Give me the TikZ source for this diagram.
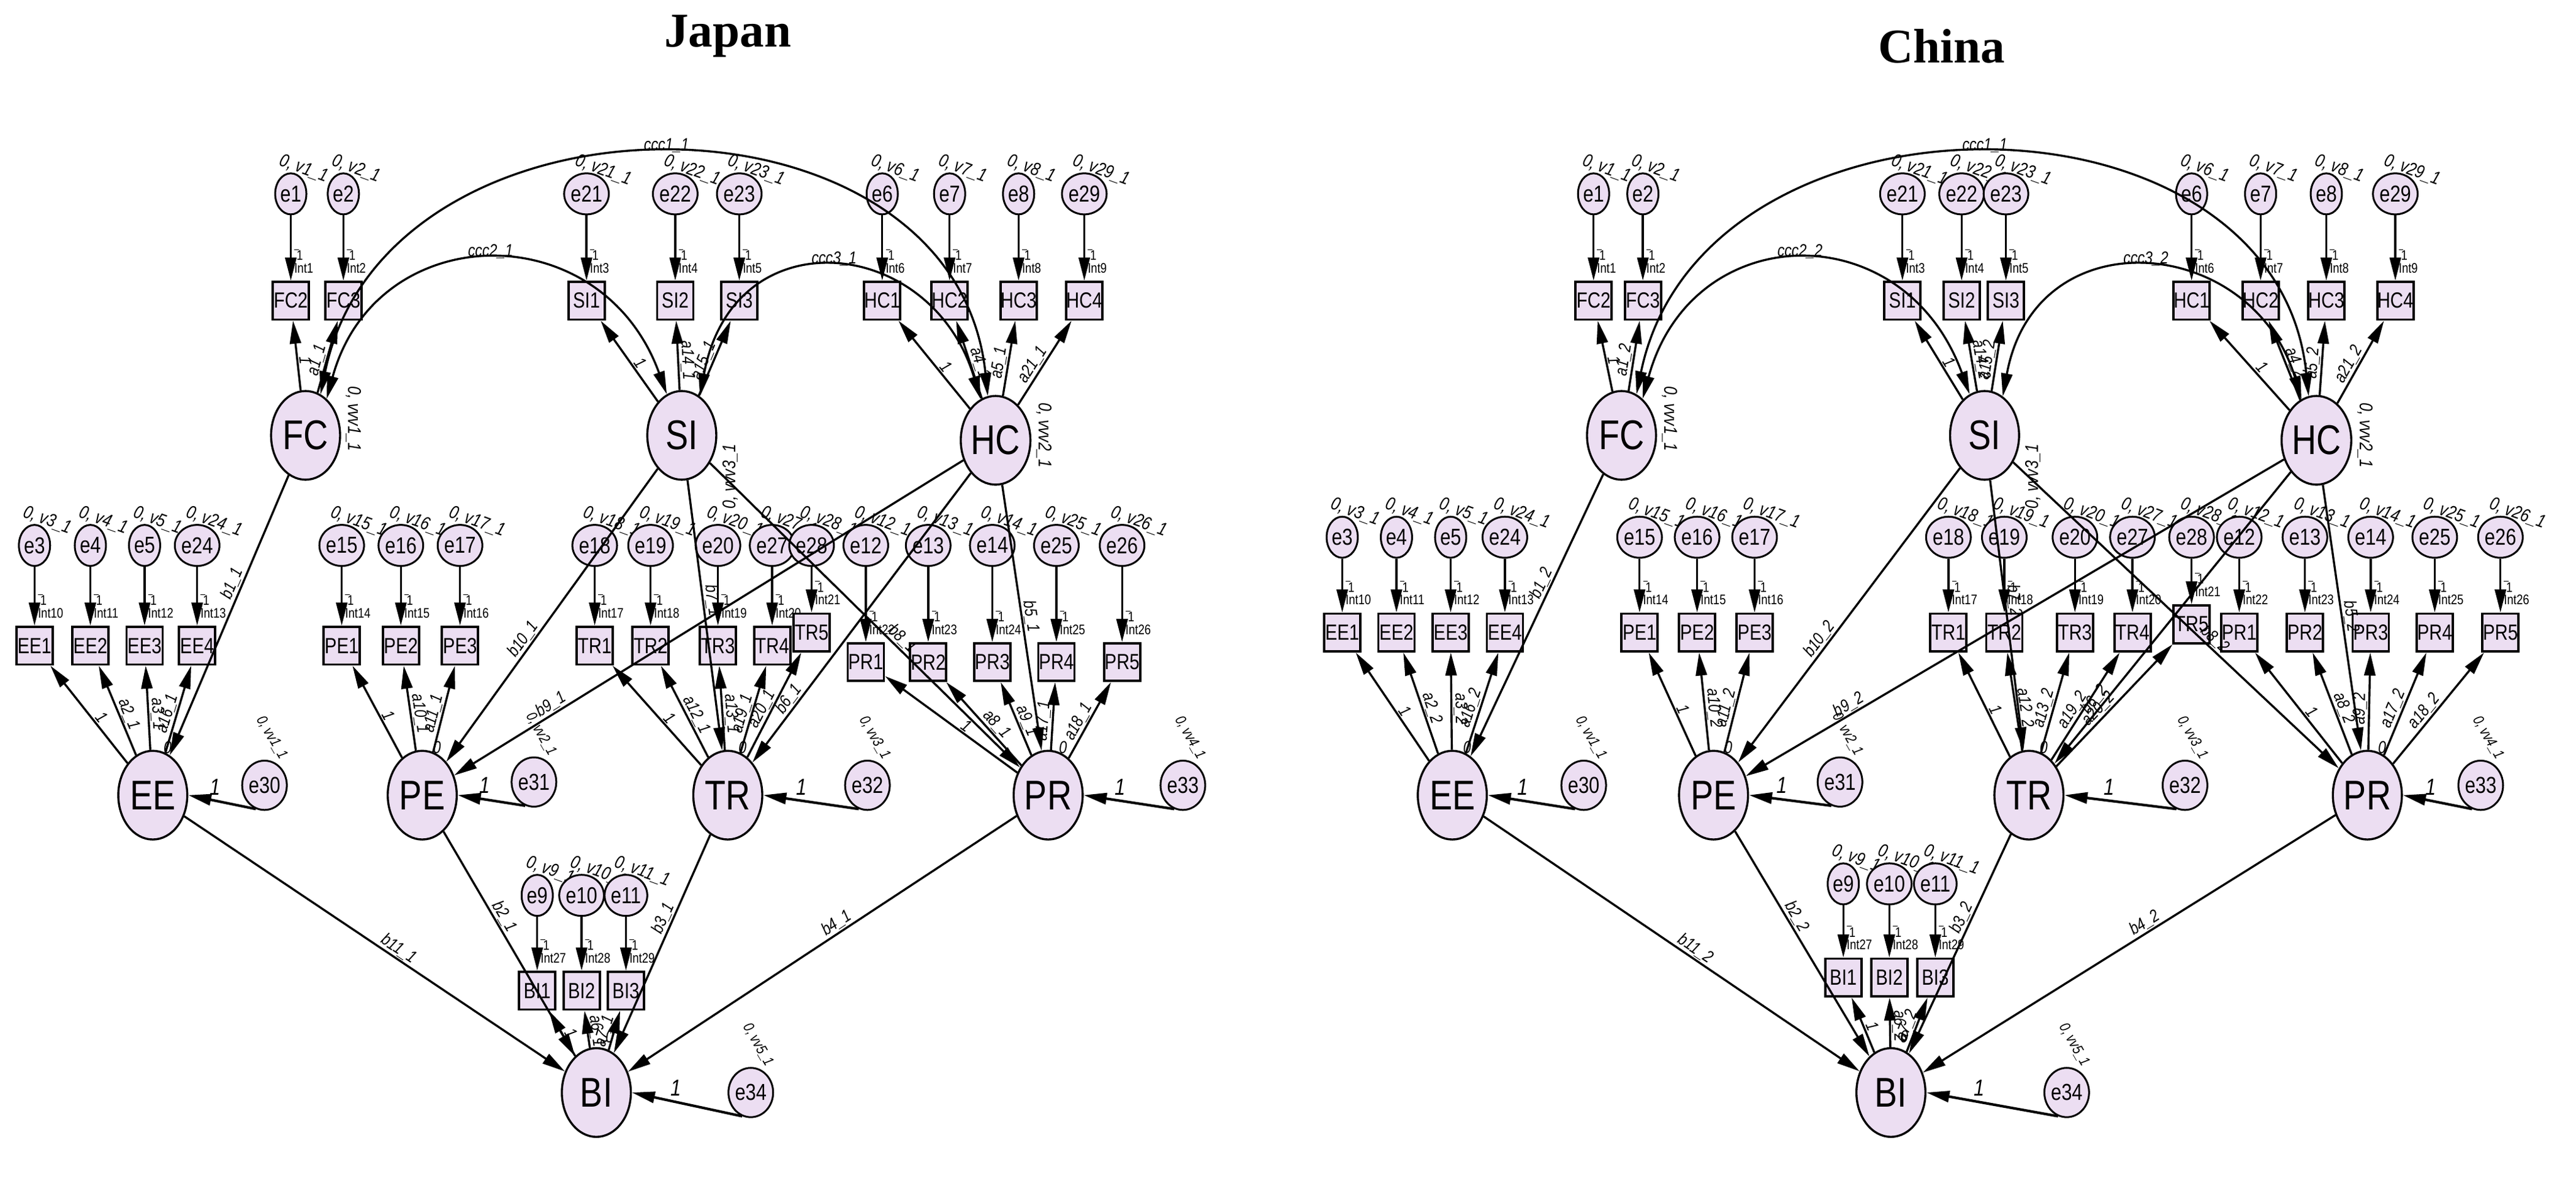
\documentclass[tikz,border=0pt]{standalone}
\usepackage{fontspec}
\setmainfont{Liberation Sans}[FakeStretch=0.82]
\newfontfamily\titlefont{Liberation Serif}
\usetikzlibrary{shapes.geometric,arrows.meta,calc}
\definecolor{lav}{RGB}{236,222,242}
\begin{document}
\begin{tikzpicture}[x=0.5mm,y=-0.5mm,
  err/.style={ellipse,draw,line width=1.6pt,fill=lav,minimum width=9.5mm,minimum height=12.5mm,inner sep=0pt,font=\fontsize{20}{20}\selectfont},
  res/.style={err,minimum width=11mm,minimum height=15mm},
  lat/.style={ellipse,draw,line width=1.8pt,fill=lav,minimum width=21mm,minimum height=27mm,inner sep=0pt,font=\fontsize{36}{36}\selectfont},
  obs/.style={rectangle,draw,line width=2pt,fill=lav,minimum width=11mm,minimum height=11.5mm,inner sep=0pt,font=\fontsize{19}{19}\selectfont},
  arr/.style={-{Triangle[length=7mm,width=3.4mm]},line width=1.8pt},
  cov/.style={{Triangle[length=7mm,width=3.4mm]}-{Triangle[length=7mm,width=3.4mm]},line width=1.8pt},
  lab/.style={font=\fontsize{15}{15}\selectfont\itshape,inner sep=1pt},
  one/.style={font=\fontsize{20}{20}\selectfont\itshape,inner sep=1pt},
  vlab/.style={font=\fontsize{16}{16}\selectfont\itshape,inner sep=0pt},
  intlab/.style={font=\fontsize{12}{12}\selectfont,align=left,inner sep=0pt,anchor=west}]
\useasboundingbox (0,0) rectangle (1568,731);
\node[font=\titlefont\bfseries\fontsize{42}{46}\selectfont] (tJ) at (443,22) {Japan};
\node[font=\titlefont\bfseries\fontsize{42}{46}\selectfont] (tC) at (1182,28) {China};

\newcommand\mkpanel[4]{%
\foreach \n/\x/\y in {#2}{\node[lat] (#1\n) at (\x,\y) {\n};}
\foreach \n/\x/\y/\v/\l in {#3}{%
  \node[res] (#1e\n) at (\x,\y) {e\n};
  \draw[arr,line width=2.2pt] (#1e\n.250) -- (#1\l.east) node[pos=.6,above=3pt,one]{1};
  \node[vlab,font=\fontsize{13}{13}\selectfont\itshape,rotate=-60,anchor=south west] (#1vv\n) at ($(#1e\n.north)+(-6,-24)$) {0, vv\v\_1};}
\foreach \b/\x/\yb/\e/\ye/\i/\l/\a in {#4}{%
  \node[obs] (#1\b) at (\x,\yb) {\b};
  \node[err] (#1e\e) at (\x,\ye) {e\e};
  \draw[arr] (#1e\e) -- (#1\b);
  \node[intlab] (#1I\i) at ($(#1\b.north)+(2,-12)$) {$\overline{\phantom{i}}$\!1\\[-1pt]Int\i};
  \node[vlab,rotate=-20,anchor=south west] (#1v\e) at ($(#1e\e.north)+(-8,-3)$) {0, v\e\_1};
  \draw[arr] (#1\l) -- (#1\b) node[pos=.42,sloped,above,lab]{\a};}
}
\newcommand\structural[1]{%
\draw[arr] (#1FC) -- (#1EE) node[pos=.4,sloped,above,lab]{b1\_\sfx};
\draw[arr] (#1SI) -- (#1PE) node[pos=.6,sloped,above,lab]{b10\_\sfx};
\draw[arr] (#1SI) -- (#1TR) node[pos=.45,sloped,above,lab]{b7\_\sfx};
\draw[arr] (#1SI) -- (#1PR) node[pos=.6,sloped,above,lab]{b8\_\sfx};
\draw[arr] (#1HC) -- (#1PE) node[pos=.8,sloped,above,lab]{b9\_\sfx};
\draw[arr] (#1HC) -- (#1TR) node[pos=.8,sloped,above,lab]{b6\_\sfx};
\draw[arr] (#1HC) -- (#1PR) node[pos=.5,sloped,above,lab]{b5\_\sfx};
\draw[arr] (#1EE) -- (#1BI) node[pos=.55,sloped,above,lab]{b11\_\sfx};
\draw[arr] (#1PE) -- (#1BI) node[pos=.4,sloped,above,lab]{b2\_\sfx};
\draw[arr] (#1TR) -- (#1BI) node[pos=.4,sloped,above,lab]{b3\_\sfx};
\draw[arr] (#1PR) -- (#1BI) node[pos=.45,sloped,above,lab]{b4\_\sfx};
\draw[cov] (#1FC.70) .. controls +(40,-195) and +(-20,-195) .. (#1HC.100) node[pos=.5,above,lab]{ccc1\_1};
\draw[cov] (#1FC.60) .. controls +(30,-110) and +(-40,-110) .. (#1SI.110) node[pos=.5,above,lab]{ccc2\_\sfx};
\draw[cov] (#1SI.65) .. controls +(20,-110) and +(-30,-100) .. (#1HC.110) node[pos=.5,above,lab]{ccc3\_\sfx};
\node[vlab,rotate=-90,anchor=south] (#1vFC) at ($(#1FC.east)+(3,-10)$) {0, vvv1\_1};
\node[vlab,rotate=90,anchor=north] (#1vSI) at ($(#1SI.east)+(3,25)$) {0, vvv3\_1};
\node[vlab,rotate=-90,anchor=south] (#1vHC) at ($(#1HC.east)+(3,-3)$) {0, vvv2\_1};
\foreach \n in {EE,PE,TR,PR}{\node[lab] (#1z\n) at ($(#1\n)+(9,-29)$) {0};}
\node[lab] (#1zBI) at ($(#1BI)+(8,-34)$) {0};
}

% ---------- Japan ----------
\def\sfx{1}
\mkpanel{J}{FC/186/265,SI/415/265,HC/606/268,EE/93/484,PE/257/484,TR/443/484,PR/638/484,BI/363/665}
{30/161/478/1/EE,31/325/476/2/PE,32/528/478/3/TR,33/720/478/4/PR,34/457/665/5/BI}
{FC2/177/183/1/118/1/FC/1,FC3/209/183/2/118/2/FC/a1\_\sfx,
 SI1/357/183/21/118/3/SI/1,SI2/411/183/22/118/4/SI/a14\_\sfx,SI3/450/183/23/118/5/SI/a15\_\sfx,
 HC1/537/183/6/118/6/HC/1,HC2/578/183/7/118/7/HC/a4\_\sfx,HC3/620/183/8/118/8/HC/a5\_\sfx,HC4/660/183/29/118/9/HC/a21\_\sfx,
 EE1/21/393/3/332/10/EE/1,EE2/55/393/4/332/11/EE/a2\_\sfx,EE3/88/393/5/332/12/EE/a3\_\sfx,EE4/120/393/24/332/13/EE/a16\_\sfx,
 PE1/208/393/15/332/14/PE/1,PE2/244/393/16/332/15/PE/a10\_\sfx,PE3/280/393/17/332/16/PE/a11\_\sfx,
 TR1/362/393/18/332/17/TR/1,TR2/396/393/19/332/18/TR/a12\_\sfx,TR3/437/393/20/332/19/TR/a13\_\sfx,TR4/470/393/27/332/20/TR/a19\_\sfx,TR5/494/385/28/332/21/TR/a20\_\sfx,
 PR1/527/403/12/332/22/PR/1,PR2/565/403/13/332/23/PR/a8\_\sfx,PR3/604/403/14/332/24/PR/a9\_\sfx,PR4/643/403/25/332/25/PR/a17\_\sfx,PR5/683/403/26/332/26/PR/a18\_\sfx,
 BI1/327/603/9/545/27/BI/1,BI2/354/603/10/545/28/BI/a6\_\sfx,BI3/381/603/11/545/29/BI/a7\_\sfx}
\structural{J}

% ---------- China ----------
\def\sfx{2}
\mkpanel{C}{FC/987/265,SI/1208/265,HC/1410/268,EE/884/484,PE/1043/484,TR/1235/484,PR/1441/484,BI/1151/665}
{30/964/478/1/EE,31/1120/476/2/PE,32/1330/478/3/TR,33/1510/478/4/PR,34/1258/665/5/BI}
{FC2/970/183/1/118/1/FC/1,FC3/1000/183/2/118/2/FC/a1\_\sfx,
 SI1/1158/183/21/118/3/SI/1,SI2/1194/183/22/118/4/SI/a14\_\sfx,SI3/1221/183/23/118/5/SI/a15\_\sfx,
 HC1/1334/183/6/118/6/HC/1,HC2/1376/183/7/118/7/HC/a4\_\sfx,HC3/1416/183/8/118/8/HC/a5\_\sfx,HC4/1458/183/29/118/9/HC/a21\_\sfx,
 EE1/817/385/3/327/10/EE/1,EE2/850/385/4/327/11/EE/a2\_\sfx,EE3/883/385/5/327/12/EE/a3\_\sfx,EE4/916/385/24/327/13/EE/a16\_\sfx,
 PE1/998/385/15/327/14/PE/1,PE2/1033/385/16/327/15/PE/a10\_\sfx,PE3/1068/385/17/327/16/PE/a11\_\sfx,
 TR1/1186/385/18/327/17/TR/1,TR2/1220/385/19/327/18/TR/a12\_\sfx,TR3/1263/385/20/327/19/TR/a13\_\sfx,TR4/1298/385/27/327/20/TR/a19\_\sfx,TR5/1334/380/28/327/21/TR/a20\_\sfx,
 PR1/1363/385/12/327/22/PR/1,PR2/1403/385/13/327/23/PR/a8\_\sfx,PR3/1443/385/14/327/24/PR/a9\_\sfx,PR4/1482/385/25/327/25/PR/a17\_\sfx,PR5/1522/385/26/327/26/PR/a18\_\sfx,
 BI1/1122/595/9/538/27/BI/1,BI2/1150/595/10/538/28/BI/a6\_\sfx,BI3/1178/595/11/538/29/BI/a7\_\sfx}
\structural{C}
\end{tikzpicture}
\end{document}
